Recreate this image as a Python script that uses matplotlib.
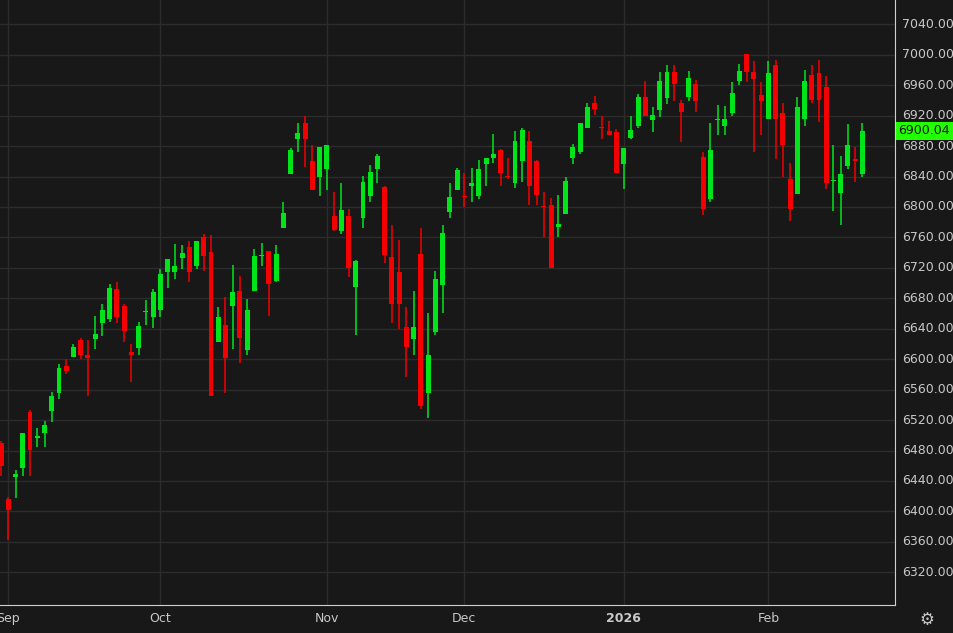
import matplotlib.pyplot as plt
import numpy as np

# daily OHLC, 2025-08-29 .. 2026-02-19
opens = [6490, 6416, 6445, 6457, 6531, 6496, 6503, 6532, 6555, 6591,
         6603, 6625, 6605, 6627, 6647, 6653, 6692, 6670, 6609, 6615,
         6662, 6656, 6665, 6715, 6715, 6733, 6747, 6723, 6761, 6741,
         6622, 6645, 6670, 6690, 6612, 6690, 6735, 6742, 6703, 6772,
         6844, 6890, 6911, 6861, 6840, 6850, 6788, 6769, 6788, 6695,
         6785, 6815, 6850, 6826, 6734, 6715, 6642, 6626, 6738, 6556,
         6636, 6697, 6793, 6822, 6814, 6828, 6815, 6856, 6865, 6875,
         6841, 6832, 6861, 6887, 6861, 6801, 6803, 6774, 6791, 6865,
         6872, 6904, 6936, 6905, 6900, 6899, 6857, 6891, 6906, 6945,
         6914, 6927, 6943, 6978, 6937, 6944, 6961, 6866, 6810, 6914,
         6907, 6923, 6965, 7001, 6978, 6947, 6916, 6986, 6924, 6837,
         6817, 6916, 6974, 6976, 6958, 6834, 6819, 6854, 6863, 6843]
highs = [6492, 6419, 6454, 6503, 6533, 6509, 6519, 6557, 6594, 6600,
         6620, 6628, 6625, 6657, 6673, 6699, 6701, 6673, 6620, 6649,
         6678, 6692, 6718, 6732, 6751, 6750, 6755, 6755, 6765, 6763,
         6669, 6682, 6724, 6709, 6679, 6745, 6753, 6742, 6750, 6807,
         6878, 6911, 6920, 6881, 6879, 6882, 6820, 6831, 6797, 6730,
         6841, 6855, 6870, 6828, 6776, 6756, 6668, 6690, 6772, 6661,
         6716, 6776, 6832, 6851, 6845, 6851, 6862, 6865, 6896, 6876,
         6865, 6900, 6904, 6900, 6862, 6820, 6812, 6816, 6840, 6883,
         6911, 6937, 6946, 6920, 6913, 6902, 6878, 6920, 6949, 6966,
         6931, 6978, 6986, 6986, 6941, 6979, 6967, 6872, 6911, 6934,
         6933, 6964, 6988, 7001, 6992, 6964, 6992, 6993, 6936, 6858,
         6945, 6980, 6987, 6993, 6972, 6882, 6867, 6909, 6879, 6910]
lows = [6446, 6362, 6418, 6447, 6446, 6485, 6485, 6518, 6548, 6580,
        6603, 6600, 6552, 6613, 6631, 6649, 6647, 6623, 6570, 6605,
        6645, 6641, 6656, 6694, 6705, 6719, 6701, 6719, 6716, 6552,
        6622, 6556, 6614, 6595, 6605, 6690, 6723, 6657, 6701, 6772,
        6843, 6872, 6852, 6822, 6815, 6822, 6768, 6764, 6708, 6632,
        6772, 6807, 6831, 6726, 6648, 6640, 6576, 6605, 6535, 6523,
        6632, 6661, 6785, 6822, 6800, 6807, 6811, 6828, 6858, 6828,
        6837, 6825, 6833, 6802, 6802, 6761, 6720, 6760, 6791, 6856,
        6869, 6904, 6921, 6889, 6894, 6845, 6824, 6890, 6904, 6919,
        6899, 6918, 6935, 6939, 6886, 6939, 6925, 6790, 6806, 6894,
        6895, 6920, 6960, 6964, 6872, 6894, 6916, 6863, 6840, 6781,
        6817, 6906, 6937, 6912, 6824, 6795, 6776, 6850, 6833, 6839]
closes = [6460, 6402, 6449, 6503, 6481, 6499, 6513, 6552, 6589, 6584,
          6616, 6605, 6601, 6633, 6665, 6694, 6656, 6637, 6605, 6644,
          6662, 6688, 6712, 6732, 6723, 6740, 6714, 6755, 6735, 6552,
          6655, 6602, 6688, 6628, 6665, 6736, 6737, 6699, 6738, 6792,
          6875, 6897, 6890, 6822, 6879, 6882, 6770, 6796, 6720, 6729,
          6833, 6846, 6867, 6737, 6672, 6672, 6616, 6642, 6539, 6605,
          6705, 6766, 6813, 6849, 6813, 6832, 6850, 6865, 6870, 6845,
          6840, 6887, 6901, 6827, 6816, 6800, 6720, 6778, 6834, 6879,
          6910, 6932, 6929, 6904, 6895, 6845, 6878, 6901, 6945, 6920,
          6921, 6966, 6978, 6962, 6925, 6970, 6939, 6797, 6875, 6914.5,
          6916, 6950, 6979, 6977, 6968, 6939, 6976, 6916, 6882, 6798,
          6932, 6965, 6941, 6940, 6832, 6835, 6844, 6881, 6861, 6900.04]

month_idx = [1, 22, 45, 64, 86, 106]
month_labels = ['Sep', 'Oct', 'Nov', 'Dec', '2026', 'Feb']
y_ticks = list(range(6320, 7041, 40))

bg = '#181818'
green = '#00e51a'
red = '#f50000'

fig = plt.figure(figsize=(9.54, 6.33), dpi=100, facecolor=bg)
ax = fig.add_axes([0, 28 / 633, 895 / 954, 605 / 633], facecolor=bg)

o = np.array(opens, dtype=float)
c = np.array(closes, dtype=float)
h = np.array(highs, dtype=float)
l = np.array(lows, dtype=float)
x = np.arange(len(o))
up = c >= o
cols = np.where(up, green, red)

ax.vlines(x, l, h, colors=cols, linewidth=1.1, zorder=3)
body = np.maximum(np.abs(c - o), 1.2)
ax.bar(x, body, bottom=np.minimum(o, c), width=0.68, color=cols, zorder=4)

ax.set_xlim(-0.15, 123.5)
ax.set_ylim(6277, 7072)
ax.set_yticks(y_ticks)
ax.set_xticks(month_idx)
ax.grid(True, color='#2c2c2c', linewidth=1)
ax.set_axisbelow(True)
ax.tick_params(length=0, labelleft=False, labelbottom=False)
for s in ['top', 'left']:
    ax.spines[s].set_visible(False)
ax.spines['right'].set_color('#cfcfcf')
ax.spines['bottom'].set_color('#cfcfcf')

# right axis labels
for v in y_ticks:
    ax.text(1.008, (v - 6277) / (7072 - 6277), f'{v:.2f}', transform=ax.transAxes,
            color='#c8c8c8', fontsize=9, va='center', ha='left', clip_on=False)
for i, lab in zip(month_idx, month_labels):
    ax.text(i, -0.012, lab, transform=ax.get_xaxis_transform(), color='#c8c8c8',
            fontsize=9, ha='center', va='top', clip_on=False,
            fontweight='bold' if lab == '2026' else 'normal')

last = closes[-1]
ax.text(1.004, (last - 6277) / (7072 - 6277), f'{last:.2f}', transform=ax.transAxes,
        color='#101010', fontsize=9, va='center', ha='left', clip_on=False,
        bbox=dict(boxstyle='square,pad=0.2', fc='#22ff00', ec='none'))
fig.text(927 / 954, 13 / 633, '\u2699', color='#c8c8c8', fontsize=12, ha='center', va='center')

fig.savefig('out.png', dpi=100, facecolor=bg)
